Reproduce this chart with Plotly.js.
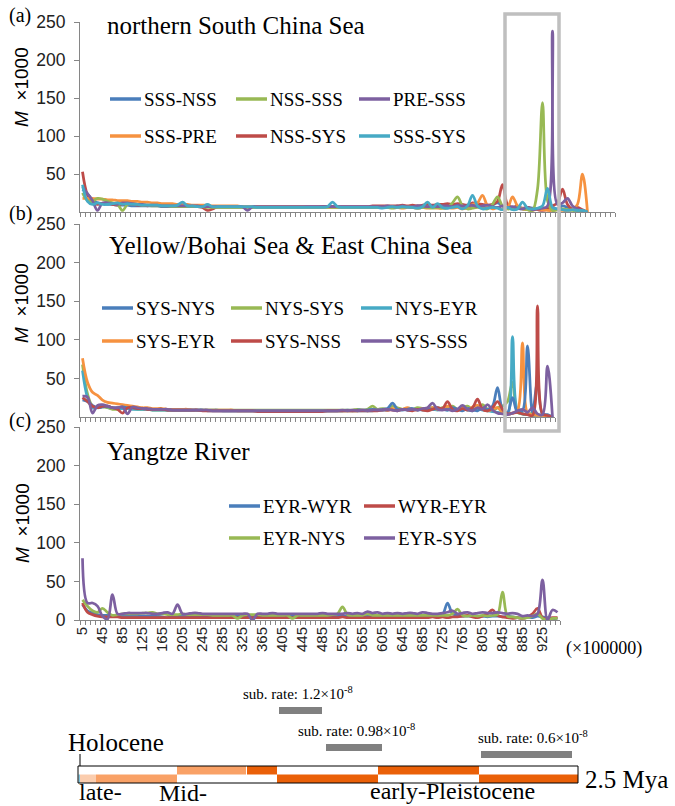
<!DOCTYPE html>
<html>
<head>
<meta charset="utf-8">
<script src="https://cdn.plot.ly/plotly-3.0.1.min.js"></script>
<style>
  body { margin: 0; background: white; }
  #chart { width: 675px; height: 806px; }
</style>
</head>
<body>
<div id="chart"></div>
<script>
// generations (x100000), one category every 10
var generations = [
	5, 15, 25, 35, 45, 55, 65, 75, 85, 95,
	105, 115, 125, 135, 145, 155, 165, 175, 185, 195,
	205, 215, 225, 235, 245, 255, 265, 275, 285, 295,
	305, 315, 325, 335, 345, 355, 365, 375, 385, 395,
	405, 415, 425, 435, 445, 455, 465, 475, 485, 495,
	505, 515, 525, 535, 545, 555, 565, 575, 585, 595,
	605, 615, 625, 635, 645, 655, 665, 675, 685, 695,
	705, 715, 725, 735, 745, 755, 765, 775, 785, 795,
	805, 815, 825, 835, 845, 855, 865, 875, 885, 895,
	905, 915, 925, 935, 945, 955, 965, 975, 985, 995,
	1005, 1015
];

// (a) northern South China Sea
var sssNss = [
	30, 24, 16, 12, 11, 10, 10, 9, 9, 9,
	8, 8, 8, 8, 8, 8, 7, 7, 7, 7,
	7, 7, 7, 7, 7, 7, 7, 6, 6, 6,
	6, 6, 6, 6, 6, 6, 6, 6, 6, 6,
	6, 6, 6, 6, 6, 6, 6, 6, 7, 7,
	7, 6, 6, 6, 6, 6, 6, 6, 6, 7,
	7, 7, 6, 8, 7, 7, 6, 8, 7, 6,
	7, 8, 6, 5, 8, 9, 7, 6, 8, 10,
	7, 5, 9, 12, 8, 5, 6, 5, 4, 6,
	5, 4, 3, 5, 6, 4, 8, 6, 3, 2,
	1, 0
];
var nssSys = [
	53, 22, 12, 10, 11, 12, 10, 9, 10, 11,
	10, 9, 9, 8, 9, 9, 8, 8, 8, 8,
	8, 8, 8, 7, 6, 2, 4, 7, 7, 7,
	7, 7, 7, 7, 7, 7, 7, 7, 7, 7,
	7, 7, 7, 7, 7, 7, 7, 7, 7, 7,
	7, 7, 7, 7, 7, 7, 7, 7, 8, 8,
	8, 8, 8, 8, 9, 8, 9, 8, 9, 10,
	9, 10, 10, 11, 10, 11, 10, 9, 12, 11,
	10, 9, 10, 14, 36, 10, 6, 8, 5, 6,
	4, 3, 2, 4, 8, 12, 30, 10, 4, 6,
	3, 0
];
var sssPre = [
	18, 18, 18, 17, 17, 16, 16, 15, 15, 15,
	14, 14, 13, 13, 12, 12, 11, 11, 11, 10,
	10, 10, 9, 9, 9, 9, 8, 8, 8, 8,
	8, 8, 7, 7, 7, 7, 7, 7, 7, 7,
	7, 7, 7, 7, 7, 6, 6, 6, 6, 6,
	6, 6, 6, 6, 6, 6, 6, 6, 6, 6,
	6, 6, 6, 6, 5, 6, 6, 5, 6, 5,
	6, 5, 5, 6, 5, 6, 4, 6, 10, 12,
	22, 8, 4, 6, 3, 5, 20, 8, 4, 3,
	2, 4, 3, 2, 2, 3, 2, 2, 3, 10,
	50, 0
];
var nssSss = [
	25, 15, 14, 18, 17, 14, 12, 10, 2, 10,
	11, 10, 9, 9, 8, 8, 8, 8, 7, 7,
	7, 7, 7, 7, 7, 6, 6, 6, 6, 6,
	6, 6, 6, 6, 6, 6, 6, 6, 6, 6,
	6, 6, 6, 6, 6, 6, 6, 6, 6, 6,
	6, 6, 6, 6, 6, 6, 6, 6, 6, 6,
	6, 6, 5, 6, 6, 7, 6, 5, 6, 6,
	5, 6, 5, 6, 12, 20, 8, 4, 5, 6,
	5, 4, 10, 20, 8, 4, 5, 6, 4, 3,
	2, 30, 144, 15, 2, 3, 4, 3, 2, 2,
	1, 0
];
var preSss = [
	33, 24, 15, 2, 12, 12, 11, 10, 12, 12,
	11, 10, 10, 9, 9, 9, 8, 8, 8, 8,
	8, 8, 8, 8, 7, 7, 7, 7, 7, 7,
	7, 7, 7, 2, 7, 7, 7, 7, 7, 7,
	7, 7, 7, 7, 7, 7, 7, 7, 7, 7,
	7, 7, 7, 7, 7, 7, 7, 7, 7, 7,
	7, 8, 7, 7, 8, 7, 7, 8, 8, 7,
	8, 7, 8, 8, 7, 9, 8, 8, 9, 7,
	8, 9, 7, 6, 8, 6, 7, 5, 4, 6,
	3, 4, 5, 8, 238, 10, 12, 18, 8, 4,
	2, 0
];
var sssSys = [
	36, 14, 10, 12, 10, 10, 11, 12, 10, 11,
	10, 10, 9, 9, 9, 9, 8, 8, 8, 9,
	13, 8, 8, 7, 7, 10, 7, 7, 7, 7,
	7, 7, 7, 7, 7, 6, 6, 6, 6, 6,
	6, 6, 6, 6, 6, 6, 6, 6, 6, 7,
	13, 7, 6, 6, 6, 6, 6, 6, 6, 6,
	5, 6, 7, 6, 7, 6, 6, 5, 7, 13,
	6, 11, 6, 5, 6, 7, 4, 8, 22, 8,
	4, 5, 6, 5, 3, 6, 3, 4, 13, 5,
	4, 5, 8, 31, 6, 4, 3, 2, 3, 2,
	2, 0
];

// (b) Yellow/Bohai Sea & East China Sea
var sysNys = [
	22, 20, 15, 12, 13, 14, 12, 12, 13, 12,
	12, 11, 11, 10, 10, 10, 10, 9, 9, 9,
	9, 9, 9, 9, 9, 8, 8, 8, 8, 8,
	8, 8, 8, 8, 8, 8, 8, 8, 8, 8,
	8, 8, 8, 8, 8, 8, 8, 8, 8, 8,
	8, 8, 8, 9, 8, 9, 9, 9, 10, 9,
	10, 11, 18, 10, 9, 10, 11, 9, 10, 11,
	10, 12, 10, 9, 12, 10, 8, 11, 10, 8,
	12, 10, 14, 38, 10, 6, 25, 6, 8, 92,
	6, 45, 4, 3, 0
];
var sysNss = [
	25, 20, 14, 12, 14, 14, 12, 10, 5, 12,
	12, 11, 11, 10, 10, 10, 10, 9, 9, 9,
	9, 9, 9, 9, 8, 8, 8, 8, 8, 8,
	8, 8, 8, 8, 8, 7, 7, 7, 7, 7,
	7, 7, 7, 7, 7, 7, 7, 7, 7, 8,
	8, 8, 8, 8, 8, 8, 8, 8, 8, 8,
	9, 9, 9, 8, 10, 9, 8, 10, 9, 8,
	10, 12, 11, 20, 10, 8, 11, 9, 12, 23,
	10, 8, 12, 20, 10, 4, 5, 6, 4, 3,
	2, 144, 4, 2, 0
];
var nysSys = [
	68, 30, 14, 12, 13, 12, 10, 10, 11, 11,
	11, 10, 10, 10, 9, 9, 9, 9, 9, 9,
	9, 9, 9, 9, 9, 9, 9, 9, 9, 9,
	9, 9, 9, 9, 9, 9, 9, 9, 9, 9,
	9, 9, 9, 9, 9, 9, 9, 9, 9, 9,
	9, 9, 9, 9, 9, 10, 9, 10, 14, 10,
	11, 10, 14, 12, 10, 11, 10, 12, 11, 10,
	12, 10, 12, 11, 14, 10, 12, 14, 10, 12,
	16, 10, 8, 12, 14, 20, 45, 6, 4, 3,
	5, 2, 3, 2, 0
];
var nysEyr = [
	60, 25, 12, 12, 14, 13, 12, 11, 11, 11,
	10, 10, 10, 10, 9, 9, 9, 9, 9, 9,
	9, 9, 9, 9, 9, 9, 9, 9, 8, 8,
	8, 8, 8, 8, 8, 8, 8, 8, 8, 8,
	8, 8, 8, 8, 8, 8, 8, 8, 8, 8,
	8, 8, 8, 8, 8, 8, 8, 8, 8, 9,
	9, 9, 10, 9, 10, 9, 9, 10, 9, 9,
	10, 9, 10, 9, 10, 9, 10, 9, 8, 10,
	9, 8, 7, 6, 5, 3, 104, 8, 4, 3,
	2, 2, 2, 1, 0
];
var sysEyr = [
	76, 45, 32, 28, 22, 19, 18, 17, 16, 15,
	14, 13, 12, 12, 11, 11, 11, 10, 10, 10,
	10, 10, 9, 9, 9, 9, 9, 9, 9, 9,
	9, 8, 8, 8, 8, 8, 8, 8, 8, 8,
	8, 8, 8, 8, 8, 8, 8, 8, 8, 8,
	8, 8, 8, 8, 8, 8, 9, 8, 9, 9,
	10, 9, 11, 9, 10, 12, 10, 9, 11, 10,
	12, 10, 11, 14, 12, 10, 12, 10, 13, 15,
	10, 8, 10, 12, 6, 4, 5, 8, 96, 5,
	3, 2, 2, 1, 0
];
var sysSss = [
	27, 26, 5, 15, 16, 14, 12, 12, 13, 4,
	13, 12, 11, 11, 10, 10, 10, 10, 9, 9,
	9, 9, 9, 9, 9, 9, 8, 8, 8, 8,
	8, 8, 8, 8, 8, 8, 8, 8, 8, 8,
	8, 8, 8, 8, 8, 8, 8, 8, 8, 8,
	8, 8, 9, 8, 9, 8, 9, 8, 9, 9,
	9, 10, 9, 8, 10, 9, 10, 9, 11, 12,
	18, 10, 9, 10, 8, 10, 15, 10, 8, 12,
	10, 16, 9, 5, 4, 3, 5, 8, 10, 6,
	12, 4, 3, 66, 0
];

// (c) Yangtze River
var eyrWyr = [
	20, 12, 9, 7, 6, 6, 5, 5, 5, 5,
	5, 5, 5, 5, 5, 5, 4, 3, 5, 5,
	5, 5, 5, 5, 5, 5, 5, 5, 5, 5,
	5, 5, 5, 5, 5, 5, 5, 5, 5, 5,
	5, 5, 5, 5, 5, 5, 5, 5, 5, 5,
	5, 5, 5, 5, 5, 5, 5, 5, 5, 5,
	5, 5, 4, 5, 5, 5, 5, 5, 5, 5,
	5, 6, 7, 22, 8, 6, 5, 5, 5, 5,
	5, 4, 5, 5, 4, 5, 4, 3, 3, 4,
	3, 5, 4, 3, 2, 2
];
var wyrEyr = [
	22, 10, 7, 5, 4, 4, 4, 4, 3, 3,
	3, 3, 3, 3, 3, 3, 3, 3, 3, 3,
	3, 3, 3, 3, 3, 3, 3, 3, 3, 3,
	3, 3, 3, 3, 3, 3, 3, 3, 3, 3,
	3, 3, 3, 3, 3, 3, 3, 3, 3, 3,
	3, 3, 4, 3, 3, 3, 3, 3, 3, 3,
	3, 3, 3, 3, 3, 3, 3, 3, 3, 3,
	4, 3, 4, 3, 4, 4, 5, 6, 4, 3,
	5, 8, 13, 6, 4, 3, 2, 3, 2, 4,
	8, 15, 3, 2, 3, 3
];
var eyrNys = [
	26, 18, 12, 10, 15, 10, 6, 7, 8, 8,
	8, 8, 9, 9, 10, 8, 8, 7, 7, 7,
	8, 7, 7, 7, 7, 7, 6, 6, 6, 6,
	6, 2, 6, 7, 7, 7, 6, 6, 6, 6,
	6, 6, 2, 6, 6, 6, 6, 6, 6, 6,
	7, 8, 17, 7, 6, 6, 6, 8, 6, 6,
	6, 6, 6, 6, 6, 6, 6, 6, 6, 6,
	6, 6, 6, 6, 8, 14, 6, 5, 6, 5,
	6, 5, 6, 7, 36, 5, 4, 3, 2, 3,
	5, 8, 2, 0, 2, 2
];
var eyrSys = [
	80, 22, 22, 18, 5, 1, 33, 8, 8, 9,
	9, 9, 9, 9, 8, 8, 9, 10, 8, 20,
	8, 8, 9, 9, 8, 8, 8, 8, 8, 8,
	8, 8, 8, 8, 0, 8, 8, 8, 9, 8,
	8, 8, 8, 8, 8, 8, 8, 8, 9, 8,
	8, 8, 8, 9, 8, 9, 8, 11, 9, 10,
	8, 9, 8, 9, 8, 9, 9, 8, 10, 9,
	8, 8, 9, 10, 12, 8, 9, 10, 8, 9,
	10, 9, 9, 10, 9, 8, 9, 8, 5, 6,
	5, 8, 52, 0, 13, 10
];

// legend rows, in reading order
var namesA = ['SSS-NSS', 'NSS-SSS', 'PRE-SSS', 'SSS-PRE', 'NSS-SYS', 'SSS-SYS'];
var namesB = ['SYS-NYS', 'NYS-SYS', 'NYS-EYR', 'SYS-EYR', 'SYS-NSS', 'SYS-SSS'];
var namesC = ['EYR-WYR', 'WYR-EYR', 'EYR-NYS', 'EYR-SYS'];

const BLUE = '#4A7EBB', RED = '#BE4B48', GREEN = '#98B954',
	PURPLE = '#7D60A0', CYAN = '#46AAC5', ORANGE = '#F69240';
const SERIF = 'Liberation Serif, Times New Roman, serif';
const SANS = 'Liberation Sans, Arial, sans-serif';
const AXISGRAY = '#868686';

const W = 675, H = 806;
function px(x) { return x / W; }
function py(y) { return 1 - y / H; }

function lineTrace(y, color, n) {
	return {
		x: generations.slice(0, y.length),
		y: y,
		type: 'scatter',
		mode: 'lines',
		line: {color: color, width: 2.75, shape: 'spline', smoothing: 1},
		xaxis: 'x' + (n > 1 ? n : ''),
		yaxis: 'y' + (n > 1 ? n : ''),
		hoverinfo: 'skip',
	};
}

var traces = [
	lineTrace(sssNss, BLUE, 1),
	lineTrace(nssSys, RED, 1),
	lineTrace(sssPre, ORANGE, 1),
	lineTrace(nssSss, GREEN, 1),
	lineTrace(preSss, PURPLE, 1),
	lineTrace(sssSys, CYAN, 1),

	lineTrace(nysSys, GREEN, 2),
	lineTrace(nysEyr, CYAN, 2),
	lineTrace(sysEyr, ORANGE, 2),
	lineTrace(sysNys, BLUE, 2),
	lineTrace(sysNss, RED, 2),
	lineTrace(sysSss, PURPLE, 2),

	lineTrace(eyrWyr, BLUE, 3),
	lineTrace(wyrEyr, RED, 3),
	lineTrace(eyrNys, GREEN, 3),
	lineTrace(eyrSys, PURPLE, 3),
];

function xAxis(x0, x1, xmax, labels, anchor) {
	return {
		domain: [px(x0), px(x1)],
		range: [0, xmax],
		anchor: anchor,
		showline: true, linecolor: AXISGRAY, linewidth: 1,
		showgrid: false, zeroline: false,
		tickmode: 'linear', tick0: 5, dtick: 40,
		ticks: '',
		showticklabels: labels,
		tickangle: -90,
		tickfont: {family: SANS, size: 15, color: '#222'},
		minor: {tick0: 0, dtick: 10, ticks: 'outside', ticklen: 4, tickcolor: AXISGRAY, showgrid: false},
	};
}

function yAxis(y0, y1, vals, anchor) {
	return {
		domain: [py(y0), py(y1)],
		range: [0, 250],
		anchor: anchor,
		showline: true, linecolor: AXISGRAY, linewidth: 1,
		showgrid: false, zeroline: false,
		tickvals: vals,
		ticks: 'outside', ticklen: 5, tickcolor: AXISGRAY,
		ticklabelstandoff: 5,
		tickfont: {family: SANS, size: 17.5, color: '#222'},
	};
}

var annotations = [];
var shapes = [];

function text(str, x, y, size, family, xanchor, extra) {
	var a = {
		text: str, x: px(x), y: py(y), xref: 'paper', yref: 'paper',
		xanchor: xanchor || 'left', yanchor: 'middle', showarrow: false,
		font: {family: family || SERIF, size: size, color: '#000'},
	};
	Object.assign(a, extra || {});
	annotations.push(a);
}

function rect(x0, y0, x1, y1, fill, lineColor, lw) {
	shapes.push({
		type: 'rect', xref: 'paper', yref: 'paper',
		x0: px(x0), x1: px(x1), y0: py(y0), y1: py(y1),
		fillcolor: fill, line: {color: lineColor || fill, width: lw === undefined ? 0 : lw},
	});
}

function legend(names, colors, cols, rows) {
	names.forEach(function(name, i) {
		var cx = cols[i % cols.length];
		var cy = rows[Math.floor(i / cols.length)];
		shapes.push({
			type: 'line', xref: 'paper', yref: 'paper',
			x0: px(cx), x1: px(cx + 31), y0: py(cy), y1: py(cy),
			line: {color: colors[i], width: 3.5},
		});
		text(name, cx + 32, cy, 19);
	});
}

// panel titles and letters
text('northern South China Sea', 105, 26, 25);
text('Yellow/Bohai Sea &amp; East China Sea', 107, 245, 25);
text('Yangtze River', 105, 452, 25);
text('(a)', 7, 15, 20);
text('(b)', 7, 213, 20);
text('(c)', 7, 420, 20);

// y titles
[87, 303, 523].forEach(function(yc) {
	text('<i>M</i>&nbsp; ×1000', 22, yc, 19, SANS, 'center', {textangle: -90});
});

legend(namesA, [BLUE, GREEN, PURPLE, ORANGE, RED, CYAN], [110, 236, 359], [99, 136]);
legend(namesB, [BLUE, GREEN, CYAN, ORANGE, RED, PURPLE], [102, 231, 361], [308, 341]);
legend(namesC, [BLUE, RED, GREEN, PURPLE], [229, 364], [506, 538]);

text('(×100000)', 564, 648, 18);

// highlight box over the late peaks
rect(505, 14, 559, 431, 'rgba(0,0,0,0)', '#BFBFBF', 3.5);

// substitution-rate bars
text('sub. rate: 1.2×10<sup>-8</sup>', 241, 693, 15);
rect(279, 707, 322, 714, '#808080');
text('sub. rate: 0.98×10<sup>-8</sup>', 296, 730, 15);
rect(326, 744, 382, 751, '#808080');
text('sub. rate: 0.6×10<sup>-8</sup>', 476, 737, 15);
rect(481, 751, 572, 758, '#808080');

// geological time bar
var top0 = 766, mid = 774.5, bot = 783;
rect(78, top0, 578, bot, '#FFFFFF');
rect(177, top0, 246, mid, '#F9A166');
rect(247, top0, 277, mid, '#EA6008');
rect(378, top0, 479, mid, '#EA6008');
rect(80, mid, 96, bot, '#FBCDAE');
rect(96, mid, 177, bot, '#F9A166');
rect(277, mid, 378, bot, '#EA6008');
rect(479, mid, 578, bot, '#EA6008');
rect(78.5, mid, 80, bot, '#7DC3DB');
rect(78, top0, 578, bot, 'rgba(0,0,0,0)', '#000', 1);
shapes.push({type: 'line', xref: 'paper', yref: 'paper',
	x0: px(80), x1: px(80), y0: py(754), y1: py(top0), line: {color: '#000', width: 1}});

text('Holocene', 66, 742, 25);
text('2.5 Mya', 583, 779, 25);
text('late-', 77, 792, 24);
text('Mid-', 157, 793, 24);
text('early-Pleistocene', 368, 791, 24);

const layout = {
	width: W,
	height: H,
	margin: {l: 0, r: 0, t: 0, b: 0},
	paper_bgcolor: '#FFFFFF',
	plot_bgcolor: 'rgba(0,0,0,0)',
	showlegend: false,

	xaxis: xAxis(80, 615, 1070, false, 'y'),
	yaxis: yAxis(212, 22, [50, 100, 150, 200, 250], 'x'),
	xaxis2: xAxis(80, 555, 950, false, 'y2'),
	yaxis2: yAxis(417, 224, [50, 100, 150, 200, 250], 'x2'),
	xaxis3: xAxis(80, 560, 960, true, 'y3'),
	yaxis3: yAxis(620, 427, [0, 50, 100, 150, 200, 250], 'x3'),

	annotations: annotations,
	shapes: shapes,
};

Plotly.newPlot('chart', traces, layout, {displayModeBar: false, staticPlot: true});
</script>
</body>
</html>
